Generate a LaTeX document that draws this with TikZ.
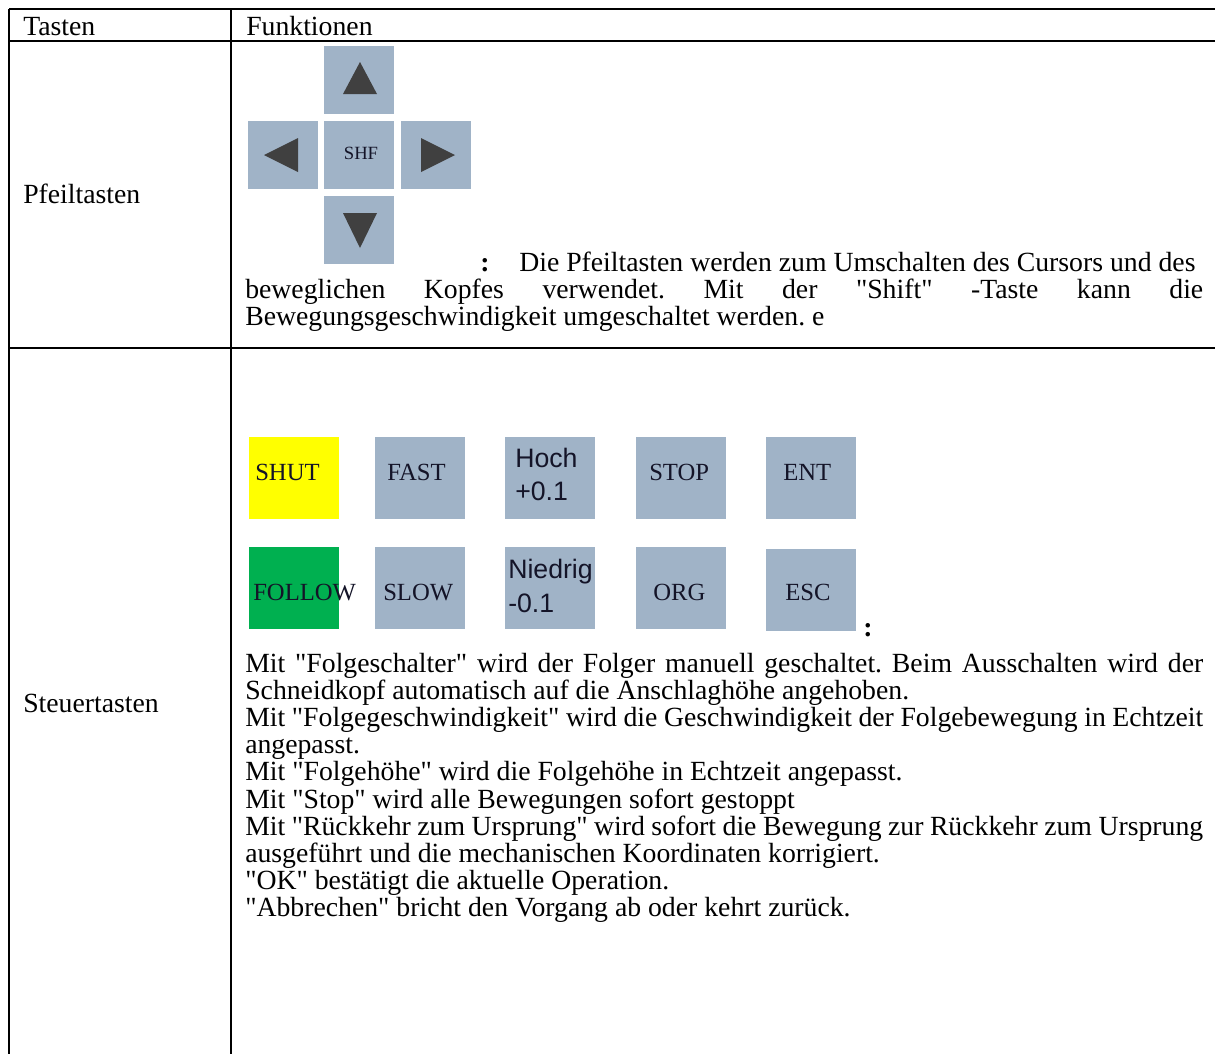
\documentclass[tikz,border=0pt]{standalone}
\usepackage{fontspec}
\setmainfont{Liberation Serif}[Ligatures=TeXOff]
\newfontfamily\keysans{Liberation Sans}[Ligatures=TeXOff]
\frenchspacing
\definecolor{keyblue}{RGB}{160,179,199}
\definecolor{tricol}{RGB}{64,64,64}
\definecolor{keygreen}{RGB}{0,176,80}
\definecolor{keyyellow}{RGB}{255,255,0}
\definecolor{keyink}{RGB}{20,20,40}
\newcommand{\jline}[1]{\makebox[718.5pt][s]{#1}}
\begin{document}
\begin{tikzpicture}[x=0.75pt,y=-0.75pt,
  gridline/.style={line width=1.5pt,black},
  arrowkey/.style={rectangle,fill=keyblue,inner sep=0pt,minimum width=52.5pt,minimum height=51pt},
  ctrlkey/.style={rectangle,fill=keyblue,inner sep=0pt,minimum width=67.5pt,minimum height=61.5pt},
  tri/.style={fill=tricol},
  body/.style={anchor=base west,inner sep=0pt,font=\fontsize{20.8}{25}\selectfont},
  keytxt/.style={anchor=base west,inner sep=0pt,text=keyink,font=\fontsize{18.5}{20}\selectfont},
  keysanstxt/.style={anchor=base west,inner sep=0pt,text=keyink,font=\keysans\fontsize{20}{22}\selectfont},
  colon/.style={anchor=base,inner sep=0pt,font=\bfseries\fontsize{20.8}{25}\selectfont}]
\path[use as bounding box,fill=white] (0,0) rectangle (1215,1054);

% table grid
\coordinate (tl) at (9,9);
\coordinate (tr) at (1215,9);
\coordinate (hl) at (9,41);
\coordinate (hr) at (1215,41);
\coordinate (rl) at (9,348);
\coordinate (rr) at (1215,348);
\coordinate (bl) at (9,1054);
\coordinate (mt) at (231,9);
\coordinate (mb) at (231,1054);
\draw[gridline] (tl) -- (tr);
\draw[gridline] (hl) -- (hr);
\draw[gridline] (rl) -- (rr);
\draw[gridline] (tl) -- (bl);
\draw[gridline] (mt) -- (mb);

% header
\node[body] (hTasten) at (23,35) {Tasten};
\node[body] (hFunk) at (246,35) {Funktionen};

% row 1
\node[body] (lPfeil) at (23,203) {Pfeiltasten};
\node[arrowkey] (kup) at (359,80) {};
\node[arrowkey] (kleft) at (283,154.5) {};
\node[arrowkey] (kshf) at (359,154.5) {};
\node[arrowkey] (kright) at (435.5,154.5) {};
\node[arrowkey] (kdown) at (359,229.5) {};
\fill[tri] (360,62) -- (377,94) -- (343,94) -- cycle;
\fill[tri] (264,155) -- (298,138) -- (298,172) -- cycle;
\fill[tri] (455,155) -- (421,138) -- (421,172) -- cycle;
\fill[tri] (360,248) -- (343,213) -- (377,213) -- cycle;
\node[inner sep=0pt,text=keyink,font=\fontsize{14}{15}\selectfont] (shf) at (361,153) {SHF};

\node[colon] (c1) at (485,271) {:};
\node[body] (t1) at (519,271) {Die Pfeiltasten werden zum Umschalten des Cursors und des};
\node[body] (t2) at (245,298) {\jline{beweglichen Kopfes verwendet. Mit der "Shift" -Taste kann die}};
\node[body] (t3) at (245,325) {Bewegungsgeschwindigkeit umgeschaltet werden. e};

% row 2
\node[body] (lSteuer) at (23,712) {Steuertasten};
\node[ctrlkey,fill=keyyellow] (kshut) at (294,478) {};
\node[ctrlkey] (kfast) at (420,478) {};
\node[ctrlkey] (khoch) at (550,478) {};
\node[ctrlkey] (kstop) at (680.5,478) {};
\node[ctrlkey] (kent) at (810.5,478) {};
\node[ctrlkey,fill=keygreen] (kfollow) at (294,587.5) {};
\node[ctrlkey] (kslow) at (420,587.5) {};
\node[ctrlkey] (kniedrig) at (550,587.5) {};
\node[ctrlkey] (korg) at (680.5,587.5) {};
\node[ctrlkey] (kesc) at (810.5,590) {};

\node[keytxt] (tshut) at (255,480) {SHUT};
\node[keytxt] (tfast) at (387,480) {FAST};
\node[keysanstxt] (thoch) at (515,467) {Hoch};
\node[keysanstxt] (thoch2) at (515,500) {+0.1};
\node[keytxt] (tstop) at (649,480) {STOP};
\node[keytxt] (tent) at (783,480) {ENT};
\node[keytxt] (tfollow) at (253,600) {FOLLOW};
\node[keytxt] (tslow) at (383,600) {SLOW};
\node[keysanstxt] (tnied) at (508,578) {Niedrig};
\node[keysanstxt] (tnied2) at (508,612) {-0.1};
\node[keytxt] (torg) at (653,600) {ORG};
\node[keytxt] (tesc) at (785,600) {ESC};
\node[colon] (c2) at (868,636) {:};

\node[body] (p1) at (245,672) {\jline{Mit "Folgeschalter" wird der Folger manuell geschaltet. Beim Ausschalten wird der}};
\node[body] (p2) at (245,699.2) {Schneidkopf automatisch auf die Anschlaghöhe angehoben.};
\node[body] (p3) at (245,726.4) {\jline{Mit "Folgegeschwindigkeit" wird die Geschwindigkeit der Folgebewegung in Echtzeit}};
\node[body] (p4) at (245,753.6) {angepasst.};
\node[body] (p5) at (245,780.8) {Mit "Folgehöhe" wird die Folgehöhe in Echtzeit angepasst.};
\node[body] (p6) at (245,808) {Mit "Stop" wird alle Bewegungen sofort gestoppt};
\node[body] (p7) at (245,835.2) {\jline{Mit "Rückkehr zum Ursprung" wird sofort die Bewegung zur Rückkehr zum Ursprung}};
\node[body] (p8) at (245,862.4) {ausgeführt und die mechanischen Koordinaten korrigiert.};
\node[body] (p9) at (245,889.6) {"OK" bestätigt die aktuelle Operation.};
\node[body] (p10) at (245,916.8) {"Abbrechen" bricht den Vorgang ab oder kehrt zurück.};
\end{tikzpicture}
\end{document}
